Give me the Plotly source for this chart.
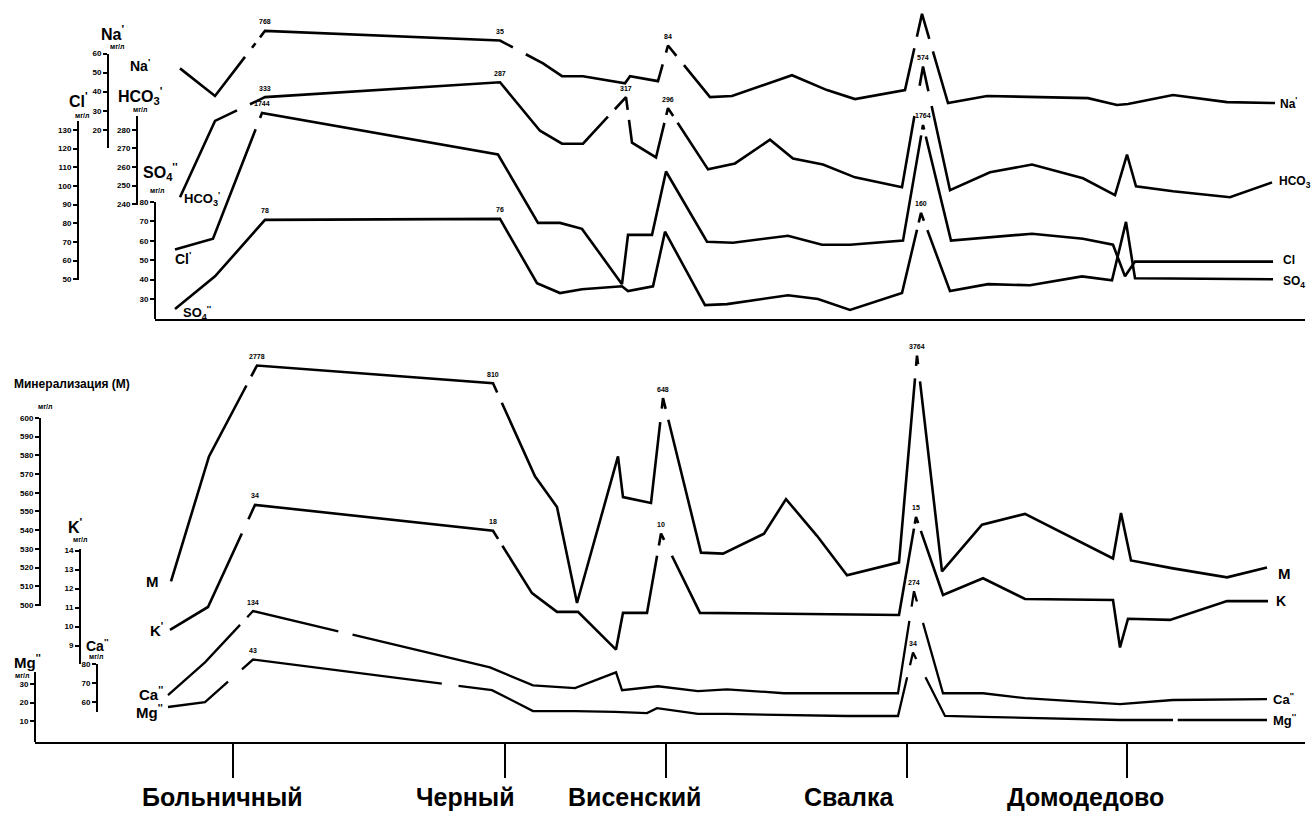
import plotly.graph_objects as go

W, H = 1312, 815

# ---------------- data (x = distance along the profile, relative units) -------------
stations = ["Больничный", "Черный", "Висенский", "Свалка", "Домодедово"]
station_x = [23.3, 50.5, 66.6, 90.7, 112.7]

# top panel, mg/l
na_x = [18.0, 21.5, 26.5, 50.0, 54.3, 56.2, 58.3, 62.5, 63.0, 65.8, 66.8, 71.0, 73.2, 79.2,
        82.7, 85.5, 90.5, 92.2, 94.8, 98.7, 103.2, 108.8, 111.7, 112.8, 117.3, 122.7, 127.5]
na_y = [52.2, 37.7, 71.9, 66.8, 54.8, 48.1, 48.1, 44.4, 48.1, 45.5, 64.2, 37.1, 37.7, 48.6,
        40.8, 36.1, 40.8, 80.8, 34.0, 37.7, 37.1, 36.6, 33.0, 33.5, 38.2, 34.5, 34.0]

hco3_x = [18.0, 21.5, 26.5, 50.0, 54.0, 56.2, 58.3, 62.6, 63.2, 65.6, 66.8, 70.8, 73.5, 77.0,
          79.3, 82.3, 85.5, 90.2, 92.3, 95.0, 99.0, 103.2, 108.3, 111.5, 112.7, 113.6, 117.3,
          123.0, 127.2]
hco3_y = [243.7, 284.8, 297.6, 305.6, 279.5, 272.5, 272.5, 297.6, 273.1, 265.1, 291.7, 258.7,
          261.9, 274.7, 264.5, 261.3, 254.4, 249.1, 314.1, 247.5, 257.1, 261.3, 253.9, 244.8,
          266.7, 249.6, 246.9, 243.7, 251.7]

cl_x = [17.5, 21.3, 26.2, 49.8, 53.8, 56.0, 58.2, 62.2, 62.8, 65.2, 66.6, 70.7, 73.3, 78.8,
        82.2, 85.0, 90.3, 92.3, 95.1, 103.2, 108.3, 111.3, 112.5, 113.5, 127.3]
cl_y = [65.9, 71.7, 139.0, 116.8, 80.2, 80.2, 77.0, 47.4, 73.8, 73.8, 107.7, 70.1, 69.6, 73.3,
        68.5, 68.5, 70.7, 132.6, 70.7, 74.4, 71.7, 68.5, 51.6, 59.5, 59.5]

so4_x = [17.5, 21.5, 26.5, 50.0, 53.7, 56.0, 58.2, 62.2, 62.8, 65.3, 66.5, 70.5, 72.7, 78.8,
         81.8, 85.0, 90.2, 92.1, 95.0, 98.8, 103.0, 108.2, 111.2, 112.6, 113.5, 127.3]
so4_y = [24.9, 41.7, 70.8, 71.3, 38.2, 33.1, 35.1, 36.6, 34.1, 36.6, 64.7, 26.9, 27.4, 32.0,
         30.0, 24.4, 33.1, 74.4, 34.1, 37.7, 37.1, 41.7, 39.7, 69.8, 40.7, 40.2]

# bottom panel, mg/l
m_x = [17.1, 20.9, 25.7, 49.3, 53.5, 55.7, 57.7, 61.8, 62.3, 65.1, 66.3, 70.1, 72.3, 76.4,
       78.6, 81.7, 84.7, 89.9, 91.7, 94.2, 98.2, 102.5, 111.3, 112.1, 113.1, 117.3, 122.7, 126.7]
m_y = [512.7, 579.4, 628.0, 618.5, 568.8, 552.4, 501.1, 579.4, 557.7, 554.5, 610.6, 528.0,
       527.5, 538.1, 556.6, 537.0, 515.9, 522.8, 633.3, 518.0, 542.9, 548.7, 524.9, 549.2,
       523.8, 519.6, 514.8, 520.1]

k_x = [17.0, 20.8, 25.5, 49.3, 53.2, 55.7, 57.8, 61.6, 62.3, 64.7, 66.1, 70.0, 89.9, 91.6,
       94.3, 98.3, 102.5, 111.3, 112.0, 112.8, 117.0, 122.7, 126.8]
k_y = [9.83, 11.03, 16.40, 15.04, 11.76, 10.77, 10.77, 8.79, 10.72, 10.72, 14.89, 10.72,
       10.61, 15.77, 11.66, 12.54, 11.45, 11.40, 8.90, 10.41, 10.35, 11.34, 11.34]

ca_x = [16.8, 20.5, 25.3, 49.0, 53.3, 57.5, 61.6, 62.2, 65.8, 69.8, 72.7, 78.4, 89.8, 91.4,
        94.3, 98.3, 102.5, 112.0, 117.3, 126.7]
ca_y = [63.7, 81.1, 108.4, 78.4, 68.9, 67.4, 75.8, 66.3, 68.4, 65.8, 66.8, 64.7, 64.7, 118.9,
        64.7, 64.7, 62.1, 58.9, 61.1, 61.6]

mg_x = [16.8, 20.5, 25.3, 49.2, 53.3, 57.5, 61.5, 64.7, 65.7, 69.8, 72.7, 78.2, 84.7, 89.8,
        91.3, 94.5, 98.3, 102.5, 112.0, 117.3, 126.7]
mg_y = [17.6, 20.3, 43.5, 26.8, 15.4, 15.4, 14.9, 14.3, 17.0, 13.8, 13.8, 13.2, 12.7, 12.7,
        47.3, 12.7, 12.2, 11.6, 10.5, 10.5, 10.5]

# broken (off-scale) segments: segment index -> list of (t_start, t_end) gaps
na_gaps = {1: [(0.6, 0.74), (0.81, 0.9)], 3: [(0.3, 0.6)], 9: [(0.47, 0.8)], 10: [(0.2, 0.38)],
           16: [(0.55, 0.7)], 17: [(0.28, 0.42)]}
hco3_gaps = {1: [(0.44, 0.7)], 6: [(0.58, 0.74)], 7: [(0.28, 0.5)], 9: [(0.7, 0.86)],
             10: [(0.13, 0.24)], 17: [(0.59, 0.84)], 18: [(0.2, 0.32)]}
cl_gaps = {1: [(0.87, 0.96)], 16: [(0.91, 0.96)], 17: [(0.04, 0.1)]}
so4_gaps = {16: [(0.79, 0.88)], 17: [(0.1, 0.22)]}
m_gaps = {1: [(0.78, 0.88)], 3: [(0.1, 0.21)], 9: [(0.77, 0.9)], 10: [(0.07, 0.14)],
          17: [(0.89, 0.95)], 18: [(0.04, 0.12)]}
k_gaps = {1: [(0.72, 0.86)], 3: [(0.13, 0.24)], 9: [(0.72, 0.85)], 10: [(0.08, 0.28)],
          12: [(0.88, 0.93)], 13: [(0.08, 0.18)]}
ca_gaps = {1: [(0.73, 0.88)], 2: [(0.36, 0.42)], 12: [(0.71, 0.85)], 13: [(0.1, 0.31)]}
mg_gaps = {1: [(0.48, 0.77)], 2: [(0.79, 0.86)], 13: [(0.61, 0.8)], 14: [(0.1, 0.39)],
           19: [(0.0, 0.05)]}

# printed values of off-scale / notable points: (point index, text)
na_notes = [(2, "768"), (3, "35"), (10, "84")]
hco3_notes = [(2, "333"), (3, "287"), (7, "317"), (10, "296"), (18, "574")]
cl_notes = [(2, "1744"), (17, "1764")]
so4_notes = [(2, "78"), (3, "76"), (17, "160")]
m_notes = [(2, "2778"), (3, "810"), (10, "648"), (18, "3764")]
k_notes = [(2, "34"), (3, "18"), (10, "10"), (13, "15")]
ca_notes = [(2, "134"), (13, "274")]
mg_notes = [(2, "43"), (14, "34")]

# ---------------- layout helpers ----------------
def pxx(x):
    return x / W


def pxy(y):
    return 1 - y / H


FONT = "Liberation Sans"

# vertical scales: axis x pos, top/bottom pixel, value at top, value per pixel, ticks
scales = {
    "na":   dict(pos=108, top=50,  bot=145, vtop=60.0,  per=0.5195, ticks=[20, 30, 40, 50, 60]),
    "hco3": dict(pos=137, top=113, bot=203, vtop=287.5, per=0.5333, ticks=[240, 250, 260, 270, 280]),
    "cl":   dict(pos=78,  top=118, bot=279, vtop=134.8, per=0.5298, ticks=list(range(50, 131, 10))),
    "so4":  dict(pos=155, top=200, bot=318, vtop=80.0,  per=0.5102, ticks=[30, 40, 50, 60, 70, 80]),
    "m":    dict(pos=40,  top=418, bot=608, vtop=600.0, per=0.5291, ticks=list(range(500, 601, 10))),
    "k":    dict(pos=80,  top=550, bot=667, vtop=14.1,  per=0.05208, ticks=[9, 10, 11, 12, 13, 14]),
    "ca":   dict(pos=97,  top=667, bot=715, vtop=80.0,  per=0.5263, ticks=[60, 70, 80]),
    "mg":   dict(pos=35,  top=675, bot=745, vtop=36.5,  per=0.5405, ticks=[10, 20, 30]),
}

series = [
    ("na", na_x, na_y, na_gaps, na_notes, 2.6),
    ("hco3", hco3_x, hco3_y, hco3_gaps, hco3_notes, 2.6),
    ("cl", cl_x, cl_y, cl_gaps, cl_notes, 2.6),
    ("so4", so4_x, so4_y, so4_gaps, so4_notes, 2.6),
    ("m", m_x, m_y, m_gaps, m_notes, 2.6),
    ("k", k_x, k_y, k_gaps, k_notes, 2.6),
    ("ca", ca_x, ca_y, ca_gaps, ca_notes, 2.3),
    ("mg", mg_x, mg_y, mg_gaps, mg_notes, 2.3),
]


def with_gaps(xs, ys, gaps):
    ox, oy = [], []
    for i in range(len(xs)):
        ox.append(xs[i])
        oy.append(ys[i])
        if i in gaps and i + 1 < len(xs):
            for t0, t1 in gaps[i]:
                for t, brk in ((t0, True), (t1, False)):
                    ox.append(xs[i] + t * (xs[i + 1] - xs[i]))
                    oy.append(ys[i] + t * (ys[i + 1] - ys[i]))
                    if brk:
                        ox.append(None)
                        oy.append(None)
    return ox, oy


fig = go.Figure()
layout = dict(
    width=W, height=H, margin=dict(l=0, r=0, t=0, b=0),
    paper_bgcolor="white", plot_bgcolor="rgba(0,0,0,0)",
    showlegend=False, font=dict(family=FONT, color="black"),
    xaxis=dict(domain=[0, 1], range=[0, W / 10], visible=False, fixedrange=True),
)
annotations = []
axis_id = {}

for n, (key, xs, ys, gaps, notes, lw) in enumerate(series):
    s = scales[key]
    yid = "y" if n == 0 else f"y{n + 1}"
    lname = "yaxis" if n == 0 else f"yaxis{n + 1}"
    axis_id[key] = yid
    full_range = [s["vtop"] - (H - s["top"]) * s["per"], s["vtop"] + s["top"] * s["per"]]
    ax = dict(range=full_range, visible=False, fixedrange=True, domain=[0, 1])
    if n > 0:
        ax["overlaying"] = "y"
    layout[lname] = ax
    gx, gy = with_gaps(xs, ys, gaps)
    fig.add_trace(go.Scatter(x=gx, y=gy, mode="lines", xaxis="x", yaxis=yid,
                             line=dict(color="black", width=lw), connectgaps=False,
                             hoverinfo="skip"))
    for idx, txt in notes:
        annotations.append(dict(x=xs[idx], y=ys[idx], xref="x", yref=yid, text=txt,
                                showarrow=False, yshift=9,
                                font=dict(size=7, family=FONT, color="black", weight="bold")))

# visible scale axes
for n, (key, s) in enumerate(scales.items()):
    k = 9 + n
    yid = f"y{k}"
    layout[f"yaxis{k}"] = dict(
        domain=[pxy(s["bot"]), pxy(s["top"])],
        range=[s["vtop"] - (s["bot"] - s["top"]) * s["per"], s["vtop"]],
        anchor="free", position=pxx(s["pos"]), side="left",
        showline=True, linecolor="black", linewidth=2,
        ticks="outside", ticklen=4, tickwidth=1.5, tickcolor="black",
        tickvals=s["ticks"], showgrid=False, zeroline=False, fixedrange=True,
        tickfont=dict(size=8, family=FONT, color="black", weight="bold"),
    )
    fig.add_trace(go.Scatter(x=[None], y=[None], xaxis="x", yaxis=yid,
                             mode="lines", hoverinfo="skip"))

# bottom distance axis with station ticks
layout["xaxis2"] = dict(domain=[pxx(35), pxx(1305)], range=[3.5, 130.5], anchor="free",
                        position=pxy(746), showline=True, linecolor="black", linewidth=2,
                        ticks="outside", ticklen=34, tickwidth=1.5, tickcolor="black",
                        tickvals=station_x, showticklabels=False, showgrid=False,
                        zeroline=False, fixedrange=True)
fig.add_trace(go.Scatter(x=[None], y=[None], xaxis="x2", yaxis="y", hoverinfo="skip"))
# top panel baseline
layout["xaxis3"] = dict(domain=[pxx(155), pxx(1305)], range=[15.5, 130.5], anchor="free",
                        position=pxy(319), showline=True, linecolor="black", linewidth=2,
                        ticks="", showticklabels=False, showgrid=False, zeroline=False,
                        fixedrange=True)
fig.add_trace(go.Scatter(x=[None], y=[None], xaxis="x3", yaxis="y", hoverinfo="skip"))

# station names
label_dx = [-1.1, -4.0, -3.2, -5.8, -4.2]
for name, sx, dx in zip(stations, station_x, label_dx):
    annotations.append(dict(x=sx + dx, y=pxy(801), xref="x", yref="paper", text=name,
                            showarrow=False, xanchor="center", yanchor="middle",
                            font=dict(size=25, family=FONT, color="black", weight="bold")))

# series names at the start of each curve
start_labels = [
    ("na", "Na<sup>'</sup>", "right", -28, 3, 14),
    ("hco3", "HCO<sub>3</sub><sup>'</sup>", "left", 2, -2, 13),
    ("cl", "Cl<sup>'</sup>", "left", -2, -8, 14),
    ("so4", "SO<sub>4</sub><sup>''</sup>", "left", 6, -4, 13),
    ("m", "M", "right", -10, 0, 15),
    ("k", "K<sup>'</sup>", "right", -5, 0, 15),
    ("ca", "Ca<sup>''</sup>", "right", -3, 2, 15),
    ("mg", "Mg<sup>''</sup>", "right", -3, -4, 15),
]
end_labels = [
    ("na", "Na<sup>'</sup>", 3, 0, 12),
    ("hco3", "HCO<sub>3</sub>", 5, 0, 12),
    ("cl", "Cl", 8, 2, 12),
    ("so4", "SO<sub>4</sub>", 8, -3, 12),
    ("m", "M", 9, -6, 15),
    ("k", "K", 6, 0, 14),
    ("ca", "Ca<sup>''</sup>", 4, 0, 13),
    ("mg", "Mg<sup>''</sup>", 4, 0, 13),
]
data_by_key = {s[0]: (s[1], s[2]) for s in series}
for key, txt, anc, dx, dy, fs in start_labels:
    xs, ys = data_by_key[key]
    annotations.append(dict(x=xs[0], y=ys[0], xref="x", yref=axis_id[key], text=txt,
                            showarrow=False, xanchor=anc, xshift=dx, yshift=dy,
                            font=dict(size=fs, family=FONT, color="black", weight="bold")))
for key, txt, dx, dy, fs in end_labels:
    xs, ys = data_by_key[key]
    annotations.append(dict(x=xs[-1], y=ys[-1], xref="x", yref=axis_id[key], text=txt,
                            showarrow=False, xanchor="left", xshift=dx, yshift=dy,
                            font=dict(size=fs, family=FONT, color="black", weight="bold")))

# scale titles
scale_titles = [
    ("Na<sup>'</sup>", 112, 29, 16), ("мг/л", 117, 43, 7),
    ("HCO<sub>3</sub><sup>'</sup>", 140, 93, 16), ("мг/л", 140, 107, 7),
    ("Cl<sup>'</sup>", 78, 97, 16), ("мг/л", 82, 113, 7),
    ("SO<sub>4</sub><sup>''</sup>", 160, 170, 16), ("мг/л", 157, 188, 7),
    ("мг/л", 45, 406, 7),
    ("K<sup>'</sup>", 75, 527, 16), ("мг/л", 80, 541, 7),
    ("Ca<sup>''</sup>", 97, 647, 14), ("мг/л", 96, 659, 7),
    ("Mg<sup>''</sup>", 27, 664, 15), ("мг/л", 22, 678, 7),
]
for txt, x, y, fs in scale_titles:
    annotations.append(dict(x=pxx(x), y=pxy(y), xref="paper", yref="paper", text=txt,
                            showarrow=False, xanchor="center", yanchor="middle",
                            font=dict(size=fs, family=FONT, color="black", weight="bold")))
annotations.append(dict(x=pxx(12), y=pxy(384), xref="paper", yref="paper",
                        text="Минерализация (М)", showarrow=False, xanchor="left",
                        yanchor="middle",
                        font=dict(size=12, family=FONT, color="black", weight="bold")))

layout["annotations"] = annotations
fig.update_layout(**layout)
fig.write_html("out.html")
